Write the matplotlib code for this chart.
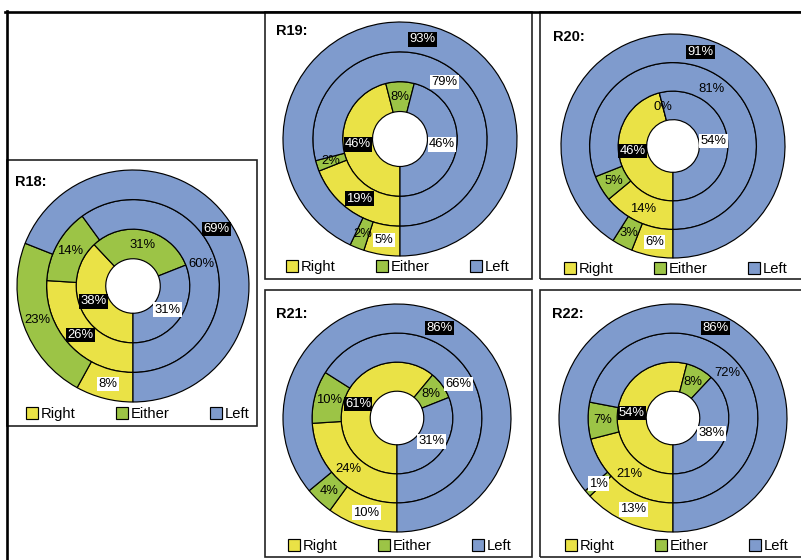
import numpy as np
import matplotlib
matplotlib.use("Agg")
import matplotlib.pyplot as plt
from matplotlib.patches import Rectangle
from matplotlib.lines import Line2D

plt.rcParams['font.family'] = ['Liberation Sans', 'DejaVu Sans']

# shares per ring, in the order Right, Either, Left
categories = ['Right', 'Either', 'Left']
panel_names = ['R18', 'R19', 'R20', 'R21', 'R22']

r18_inner = [38, 31, 31]
r18_middle = [26, 14, 60]
r18_outer = [8, 23, 69]

r19_inner = [46, 8, 46]
r19_middle = [19, 2, 79]
r19_outer = [5, 2, 93]

r20_inner = [46, 0, 54]
r20_middle = [14, 5, 81]
r20_outer = [6, 3, 91]

r21_inner = [61, 8, 31]
r21_middle = [24, 10, 66]
r21_outer = [10, 4, 86]

r22_inner = [54, 8, 38]
r22_middle = [21, 7, 72]
r22_outer = [13, 1, 86]

rings = {
    'R18': [r18_inner, r18_middle, r18_outer],
    'R19': [r19_inner, r19_middle, r19_outer],
    'R20': [r20_inner, r20_middle, r20_outer],
    'R21': [r21_inner, r21_middle, r21_outer],
    'R22': [r22_inner, r22_middle, r22_outer],
}

colors = ['#EAE246', '#9CC446', '#7F9BCD']

# label look per ring (inner, middle, outer): k = black box, w = white box
label_style = {
    'R18': [['k', '', 'w'], ['k', '', ''], ['w', '', 'k']],
    'R19': [['k', '', 'w'], ['k', '', 'w'], ['w', '', 'k']],
    'R20': [['k', '', 'w'], ['', '', ''], ['w', '', 'k']],
    'R21': [['k', '', 'w'], ['', '', 'w'], ['w', '', 'k']],
    'R22': [['k', '', 'w'], ['', '', ''], ['w', 'w', 'k']],
}

# panel layout in pixels: box (x0, y0, x1, y1), donut centre, radius,
# title anchor, legend centre
layout = {
    'R18': dict(box=(7, 160, 257, 426), c=(133, 286), r=116, t=(15, 182), lg=(138, 414)),
    'R19': dict(box=(265, 12, 532, 279), c=(400, 139), r=117, t=(276, 31), lg=(398, 267)),
    'R20': dict(box=(540, 12, 812, 279), c=(673, 146), r=112, t=(553, 37), lg=(676, 269)),
    'R21': dict(box=(265, 290, 532, 557), c=(397, 418), r=114, t=(276, 314), lg=(400, 546)),
    'R22': dict(box=(540, 290, 812, 557), c=(673, 418), r=114, t=(552, 314), lg=(677, 546)),
}

W, H = 801, 560
fig = plt.figure(figsize=(W / 100, H / 100), dpi=100)
fig.patch.set_facecolor('white')


def fx(x):
    return x / W


def fy(y):
    return 1 - y / H


# heavy frame along the top and left
fig.add_artist(Line2D([fx(5), fx(801)], [fy(11.5), fy(11.5)], color='black', lw=1.9))
fig.add_artist(Line2D([fx(6.5), fx(6.5)], [fy(11), fy(560)], color='black', lw=1.9))

ring_radii = [0.49, 0.745, 1.0]
ring_width = 0.255
lim = 1.02

for name in panel_names:
    lay = layout[name]
    x0, y0, x1, y1 = lay['box']
    fig.add_artist(Rectangle((fx(x0), fy(y1)), fx(x1 - x0), (y1 - y0) / H,
                             fill=False, ec='#222222', lw=1.2))

    cx, cy = lay['c']
    r = lay['r'] * lim
    ax = fig.add_axes([fx(cx - r), fy(cy + r), 2 * r / W, 2 * r / H])
    wedges = None
    for ring, rad, styles in zip(rings[name], ring_radii, label_style[name]):
        w, _ = ax.pie(ring, radius=rad, colors=colors, startangle=-90,
                      counterclock=False,
                      wedgeprops=dict(width=ring_width, edgecolor='black', linewidth=0.85))
        if wedges is None:
            wedges = w
        # label each slice at the middle of its ring
        total = float(sum(ring))
        start = -90.0
        lr = rad - ring_width / 2
        for val, st in zip(ring, styles):
            span = 360.0 * val / total
            mid = np.deg2rad(start - span / 2)
            start -= span
            kw = dict(ha='center', va='center', fontsize=9.4)
            if st == 'k':
                kw.update(color='white',
                          bbox=dict(boxstyle='square,pad=0.1', fc='black', ec='none'))
            elif st == 'w':
                kw.update(color='black',
                          bbox=dict(boxstyle='square,pad=0.1', fc='white', ec='none'))
            else:
                kw.update(color='black')
            ax.text(lr * np.cos(mid), lr * np.sin(mid), f'{val}%', **kw)
    ax.set_xlim(-lim, lim)
    ax.set_ylim(-lim, lim)
    ax.set_aspect('equal')
    ax.axis('off')

    tx, ty = lay['t']
    fig.text(fx(tx), fy(ty), name + ':', fontsize=10.5, fontweight='bold',
             ha='left', va='center')

    lx, ly = lay['lg']
    fig.legend(wedges, categories, loc='center', bbox_to_anchor=(fx(lx), fy(ly)),
               ncol=3, frameon=False, fontsize=10.6, handlelength=0.8,
               handleheight=0.8, handletextpad=0.2, columnspacing=2.75,
               borderpad=0, borderaxespad=0)

fig.savefig('out.png', dpi=100)
